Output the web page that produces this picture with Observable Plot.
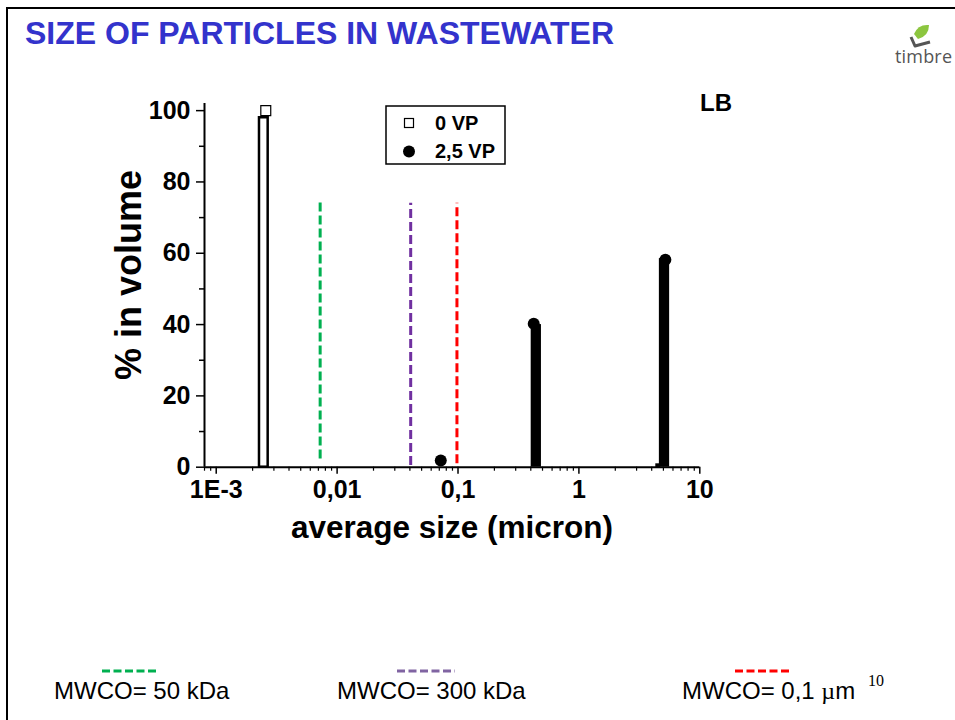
<!DOCTYPE html>
<html>
<head>
<meta charset="utf-8">
<script src="https://cdn.jsdelivr.net/npm/d3@7"></script>
<script src="https://cdn.jsdelivr.net/npm/@observablehq/plot@0.6"></script>
<style>
  html, body { margin: 0; padding: 0; background: #fff; }
  #page { position: relative; width: 955px; height: 720px; overflow: hidden; background: #fff; }
  #frame { position: absolute; left: 6px; top: 7px; right: -10px; bottom: -10px; border-left: 2.5px solid #000; border-top: 2.5px solid #000; }
  #chart, #overlay { position: absolute; left: 0; top: 0; }
  #overlay { pointer-events: none; }
</style>
</head>
<body>
<div id="page">
  <div id="frame"></div>
  <div id="chart"></div>
  <svg id="overlay" width="955" height="720"></svg>
</div>
<script>
// ---------- data ----------
const xMin = 0.0008, xMax = 10, yMax = 102;
const xTicks = [0.001, 0.01, 0.1, 1, 10];
const xTickLabels = ["1E-3", "0,01", "0,1", "1", "10"];
const xMinorTicks = [0.0008, 0.0009,
  0.002, 0.003, 0.004, 0.005, 0.006, 0.007, 0.008, 0.009,
  0.02, 0.03, 0.04, 0.05, 0.06, 0.07, 0.08, 0.09,
  0.2, 0.3, 0.4, 0.5, 0.6, 0.7, 0.8, 0.9,
  2, 3, 4, 5, 6, 7, 8, 9];
const yTicks = [0, 20, 40, 60, 80, 100];
const yMinorTicks = [10, 30, 50, 70, 90];

const seriesNames = ["0 VP", "2,5 VP"];

// 0 VP (hollow bars + square markers)
const vp0BarLo = [0.00228, 4.43];
const vp0BarHi = [0.00269, 4.63];
const vp0BarVal = [98, 0.6];
const vp0PointX = [0.00257];
const vp0PointY = [100];

// 2,5 VP (filled bars + circle markers)
const vp25BarLo = [0.403, 4.63];
const vp25BarHi = [0.49, 5.63];
const vp25BarVal = [40, 58.5];
const vp25PointX = [0.072, 0.423, 5.19];
const vp25PointY = [1.9, 40.2, 58.2];

// membrane cut-offs
const cutoffNames = ["MWCO= 50 kDa", "MWCO= 300 kDa", "MWCO= 0,1 µm"];
const cutoffX = [0.00724, 0.0406, 0.098];
const cutoffTop = [74.3, 74, 74];
const cutoffBottom = [2.3, 0.5, 1];
const cutoffColors = ["#00b050", "#7030a0", "#ff0000"];
const legendDashColors = ["#00b050", "#8064a2", "#ff0000"];

// ---------- tables ----------
const vp0Bars = vp0BarLo.map((d, i) => ({x1: d, x2: vp0BarHi[i], v: vp0BarVal[i]}));
const vp25Bars = vp25BarLo.map((d, i) => ({x1: d, x2: vp25BarHi[i], v: vp25BarVal[i]}));
const vp0Points = vp0PointX.map((d, i) => ({x: d, y: vp0PointY[i]}));
const vp25Points = vp25PointX.map((d, i) => ({x: d, y: vp25PointY[i]}));
const cutoffs = cutoffX.map((d, i) => ({x: d, y1: cutoffBottom[i], y2: cutoffTop[i], color: cutoffColors[i]}));

const FONT = "'Liberation Sans', Arial, Helvetica, sans-serif";

const plot = Plot.plot({
  width: 955,
  height: 720,
  marginLeft: 204,
  marginRight: 255.7,
  marginTop: 103,
  marginBottom: 253.3,
  x: {type: "log", domain: [xMin, xMax]},
  y: {domain: [0, yMax]},
  color: {type: "identity"},
  style: {fontFamily: FONT, background: "transparent", color: "#000", overflow: "visible"},
  marks: [
    Plot.ruleX(cutoffs, {x: "x", y1: "y1", y2: "y2", stroke: "color", strokeWidth: 3, strokeDasharray: "9,4"}),
    Plot.rectY(vp0Bars, {x1: "x1", x2: "x2", y1: 0, y2: "v", fill: "white", stroke: "black", strokeWidth: 2.5}),
    Plot.rectY(vp25Bars, {x1: "x1", x2: "x2", y1: 0, y2: "v", fill: "black"}),
    Plot.dot(vp0Points, {x: "x", y: "y", symbol: "square", r: 5.6, fill: "white", stroke: "black", strokeWidth: 1.2}),
    Plot.dot(vp25Points, {x: "x", y: "y", r: 6, fill: "black", stroke: "none"}),
    Plot.ruleY([0], {strokeWidth: 2}),
    Plot.ruleX([xMin], {strokeWidth: 2}),
    Plot.axisY({ticks: yTicks, tickSize: 8, tickPadding: 6, fontSize: 25, fontWeight: "bold", label: null, strokeWidth: 1.5}),
    Plot.axisY({ticks: yMinorTicks, tickSize: 5, tickFormat: () => "", label: null, strokeWidth: 1.5}),
    Plot.axisX({ticks: xTicks, tickFormat: d => xTickLabels[xTicks.indexOf(d)], tickSize: 7, tickPadding: 6, fontSize: 25, fontWeight: "bold", label: null, strokeWidth: 1.5}),
    Plot.axisX({ticks: xMinorTicks, tickSize: 4, tickFormat: () => "", label: null, strokeWidth: 1.2})
  ]
});
document.getElementById("chart").appendChild(plot);

// ---------- overlay texts ----------
const ov = d3.select("#overlay").style("font-family", FONT);

ov.append("text").attr("x", 25).attr("y", 44)
  .attr("font-size", 32).attr("font-weight", "bold").attr("fill", "#3333cc")
  .text("SIZE OF PARTICLES IN WASTEWATER");

// logo
const logo = ov.append("g");
logo.append("polyline").attr("points", "911,37 915,46 930,42").attr("fill", "none")
  .attr("stroke", "#555").attr("stroke-width", 3).attr("stroke-linejoin", "round");
logo.append("path").attr("d", "M914,34 Q918,24 929,25 Q929,36 918,39 Z").attr("fill", "#8cc63f");
logo.append("text").attr("x", 895).attr("y", 63).attr("font-size", 18)
  .attr("font-family", "'Open Sans', 'DejaVu Sans', sans-serif").attr("fill", "#555")
  .attr("textLength", 57).text("timbre");

// LB
ov.append("text").attr("x", 700).attr("y", 111).attr("font-size", 24).attr("font-weight", "bold").text("LB");

// axis titles
ov.append("text").attr("transform", "translate(141,275) rotate(-90)")
  .attr("text-anchor", "middle").attr("font-size", 36).attr("font-weight", "bold").text("% in volume");
ov.append("text").attr("x", 452).attr("y", 538)
  .attr("text-anchor", "middle").attr("font-size", 31.5).attr("font-weight", "bold").text("average size (micron)");

// series legend box
ov.append("rect").attr("x", 386).attr("y", 106).attr("width", 119).attr("height", 58)
  .attr("fill", "white").attr("stroke", "black").attr("stroke-width", 1.5);
ov.append("rect").attr("x", 404.5).attr("y", 118.5).attr("width", 9).attr("height", 9)
  .attr("fill", "white").attr("stroke", "black").attr("stroke-width", 1.2);
ov.append("circle").attr("cx", 409).attr("cy", 151.5).attr("r", 6).attr("fill", "black");
ov.append("text").attr("x", 435).attr("y", 129.5).attr("font-size", 20).attr("font-weight", "bold").text(seriesNames[0]);
ov.append("text").attr("x", 435).attr("y", 158).attr("font-size", 20).attr("font-weight", "bold").text(seriesNames[1]);

// bottom cut-off legend
const legX = [54, 337, 682];
const dashX = [[102, 157], [397, 455], [735, 791]];
cutoffNames.forEach((name, i) => {
  ov.append("line").attr("x1", dashX[i][0]).attr("x2", dashX[i][1]).attr("y1", 671).attr("y2", 671)
    .attr("stroke", legendDashColors[i]).attr("stroke-width", 3).attr("stroke-dasharray", "8,3.5");
  const t = ov.append("text").attr("x", legX[i]).attr("y", 699).attr("font-size", 24).attr("fill", "#000");
  if (name.includes("µ")) {
    const parts = name.split("µ");
    t.append("tspan").text(parts[0]);
    t.append("tspan").attr("font-family", "'Liberation Serif', 'DejaVu Serif', serif").text("µ");
    t.append("tspan").text(parts[1]);
  } else {
    t.text(name);
  }
});

// slide number
ov.append("text").attr("x", 868).attr("y", 686).attr("font-size", 16)
  .attr("font-family", "'Liberation Serif', 'DejaVu Serif', serif").text("10");
</script>
</body>
</html>
